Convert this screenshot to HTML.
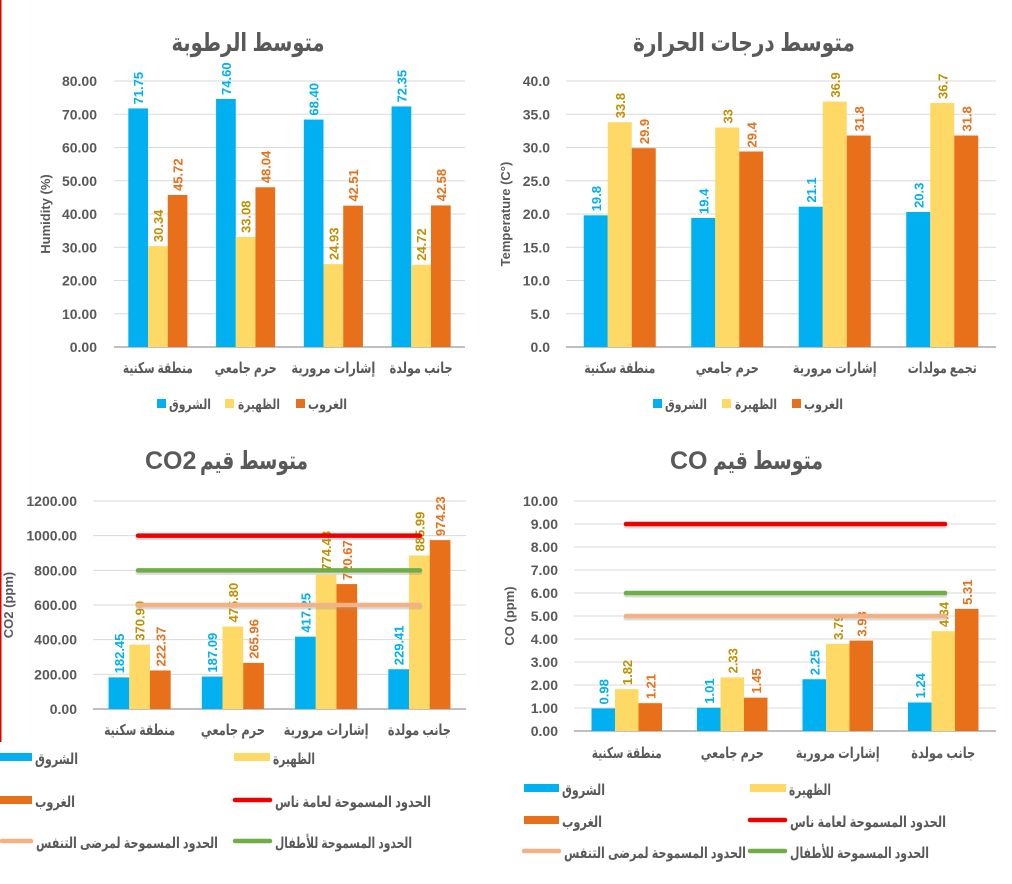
<!DOCTYPE html>
<html><head><meta charset="utf-8">
<style>
html,body{margin:0;padding:0;background:#fff;}
svg{display:block;font-family:"Liberation Sans","DejaVu Sans",sans-serif;}
</style></head>
<body>
<svg id="s" width="1012" height="884" xmlns="http://www.w3.org/2000/svg"></svg>
<script>
const S=document.getElementById('s');
let h='';
h+='<rect x="0" y="0" width="1.5" height="742" fill="#e00000"/>';
const B='#00B0F0',Y='#FFD966',O='#E8701A',BL='#00B0F0',YL='#BF9000',OL='#E8701A';
function T(x,y,s,len,size,anchor,w){
  return `<text x="${x}" y="${y}" text-anchor="${anchor||'start'}" font-size="${size}" font-weight="${w||'bold'}" fill="#595959" textLength="${len}" lengthAdjust="spacingAndGlyphs">${s}</text>`;
}
function chart(c){
  const {x0,x1,y0,yTop,max,step,dec,vals,bw,cats,catW,catY,title,titleW,tx,ty,ylab,ylx,lbEnd,lines,pre}=c;
  const sc=(y0-yTop)/max;
  for(let v=0;v<=max+1e-9;v+=step){
    const y=y0-v*sc;
    h+=`<line x1="${x0}" x2="${x1}" y1="${y}" y2="${y}" stroke="${v==0?'#bfbfbf':'#d9d9d9'}" stroke-width="${v==0?2:1}"/>`;
    h+=`<text x="${lbEnd}" y="${y+5}" text-anchor="end" font-size="14" font-weight="bold" fill="#595959">${v.toFixed(dec)}</text>`;
  }
  const gw=(x1-x0)/4;
  const cols=[B,Y,O],lc=[BL,YL,OL];
  vals.forEach((g,i)=>{
    const cx=x0+gw*(i+0.5);
    g.forEach((v,j)=>{
      const bx=cx-1.5*bw+j*bw, by=y0-v[0]*sc;
      h+=`<rect x="${bx}" y="${by}" width="${bw}" height="${y0-by}" fill="${cols[j]}"/>`;
      const lx=bx+bw/2+5, ly=by-4;
      h+=`<text transform="translate(${lx},${ly}) rotate(-90)" font-size="13" font-weight="bold" fill="${lc[j]}">${v[1]}</text>`;
    });
    h+=T(cx,catY,cats[i],catW[i],15,'middle');
  });
  if(lines){lines.forEach(l=>{const y=y0-l[0]*sc;
    h+=`<line x1="${l[2]}" x2="${l[3]}" y1="${y+2}" y2="${y+2}" stroke="#999" stroke-opacity="0.35" stroke-width="5" stroke-linecap="round"/>`;
    h+=`<line x1="${l[2]}" x2="${l[3]}" y1="${y}" y2="${y}" stroke="${l[1]}" stroke-width="4.5" stroke-linecap="round"/>`;});}
  if(pre){
    h+=`<text x="${pre[1]}" y="${ty}" font-size="25" font-weight="bold" fill="#595959">${pre[0]}</text>`;
    h+=T(tx,ty,title,titleW,25,'end');
  } else h+=T(tx,ty,title,titleW,25,'middle');
  h+=`<text transform="translate(${ylx},${(y0+yTop)/2}) rotate(-90)" text-anchor="middle" font-size="13" font-weight="bold" fill="#595959">${ylab}</text>`;
}
const cats1=['منطقة سكنية','حرم جامعي','إشارات مرورية','جانب مولدة'];
chart({x0:114,x1:465,y0:347,yTop:81,max:80,step:10,dec:2,bw:19.7,lbEnd:97,catY:373,cats:cats1,catW:[70,62,84,63],
 title:'متوسط الرطوبة',titleW:153,tx:248,ty:51,ylab:'Humidity (%)',ylx:50,
 vals:[[[71.75,'71.75'],[30.34,'30.34'],[45.72,'45.72']],[[74.6,'74.60'],[33.08,'33.08'],[48.04,'48.04']],[[68.4,'68.40'],[24.93,'24.93'],[42.51,'42.51']],[[72.35,'72.35'],[24.72,'24.72'],[42.58,'42.58']]]});
chart({x0:566,x1:996,y0:347,yTop:81,max:40,step:5,dec:1,bw:24,lbEnd:550,catY:373,
 cats:['منطقة سكنية','حرم جامعي','إشارات مرورية','تجمع مولدات'],catW:[71,63,84,69],
 title:'متوسط درجات الحرارة',titleW:222,tx:744,ty:51,ylab:'Temperature (C°)',ylx:510,
 vals:[[[19.8,'19.8'],[33.8,'33.8'],[29.9,'29.9']],[[19.4,'19.4'],[33,'33'],[29.4,'29.4']],[[21.1,'21.1'],[36.9,'36.9'],[31.8,'31.8']],[[20.3,'20.3'],[36.7,'36.7'],[31.8,'31.8']]]});
chart({x0:93,x1:466,y0:709,yTop:501,max:1200,step:200,dec:2,bw:20.7,lbEnd:77,catY:735,cats:cats1,catW:[71,64,85,63],
 title:'متوسط قيم',titleW:108,tx:308,ty:469,pre:['CO2',145],ylab:'CO2 (ppm)',ylx:13,
 lines:[[1000,'#EE0000',138,420],[800,'#70AD47',138,420],[600,'#F4B183',138,420]],
 vals:[[[182.45,'182.45'],[370.9,'370.90'],[222.37,'222.37']],[[187.09,'187.09'],[475.8,'475.80'],[265.96,'265.96']],[[417.25,'417.25'],[774.48,'774.48'],[720.67,'720.67']],[[229.41,'229.41'],[885.99,'885.99'],[974.23,'974.23']]]});
chart({x0:574,x1:996,y0:731,yTop:501,max:10,step:1,dec:2,bw:23.5,lbEnd:558,catY:758,cats:cats1,catW:[70,63,84,64],
 title:'متوسط قيم',titleW:110,tx:823,ty:469,pre:['CO',670],ylab:'CO (ppm)',ylx:514,
 lines:[[9,'#EE0000',626,945],[6,'#70AD47',626,945],[5,'#F4B183',626,945]],
 vals:[[[0.98,'0.98'],[1.82,'1.82'],[1.21,'1.21']],[[1.01,'1.01'],[2.33,'2.33'],[1.45,'1.45']],[[2.25,'2.25'],[3.79,'3.79'],[3.93,'3.93']],[[1.24,'1.24'],[4.34,'4.34'],[5.31,'5.31']]]});
function sq(x,y,c,t,tx,w){h+=`<rect x="${x}" y="${y-4}" width="9" height="9" fill="${c}"/>`+T(tx,y+6,t,w,14);}
sq(157,403,B,'الشروق',169,42);sq(225,403,Y,'الظهيرة',238,42);sq(296,403,O,'الغروب',308,39);
sq(653,403,B,'الشروق',665,42);sq(722,403,Y,'الظهيرة',735,42);sq(792,403,O,'الغروب',804,39);
function rb(x,y,w,c,t,tw){h+=`<rect x="${x}" y="${y-4}" width="${w}" height="8" fill="${c}"/>`+T(x+w+3,y+7,t,tw,15);}
function ln(x,y,w,c,t,tw){h+=`<line x1="${x+2}" x2="${x+w-2}" y1="${y}" y2="${y}" stroke="${c}" stroke-width="4.5" stroke-linecap="round"/>`+T(x+w+3,y+7,t,tw,15);}
rb(0,757,32,B,'الشروق',43);rb(234,757,36,Y,'الظهيرة',42);
rb(0,800,32,O,'الغروب',40);ln(233,800,39,'#EE0000','الحدود المسموحة لعامة ناس',156);
ln(0,841,33,'#F4B183','الحدود المسموحة لمرضى التنفس',182);ln(233,841,39,'#70AD47','الحدود المسموحة للأطفال',137);
rb(524,788,35,B,'الشروق',43);rb(750,788,36,Y,'الظهيرة',42);
rb(524,820,35,O,'الغروب',40);ln(748,820,39,'#EE0000','الحدود المسموحة لعامة ناس',156);
ln(522,851,39,'#F4B183','الحدود المسموحة لمرضى التنفس',182);ln(748,851,39,'#70AD47','الحدود المسموحة للأطفال',139);
S.innerHTML=h;
</script>
</body></html>
